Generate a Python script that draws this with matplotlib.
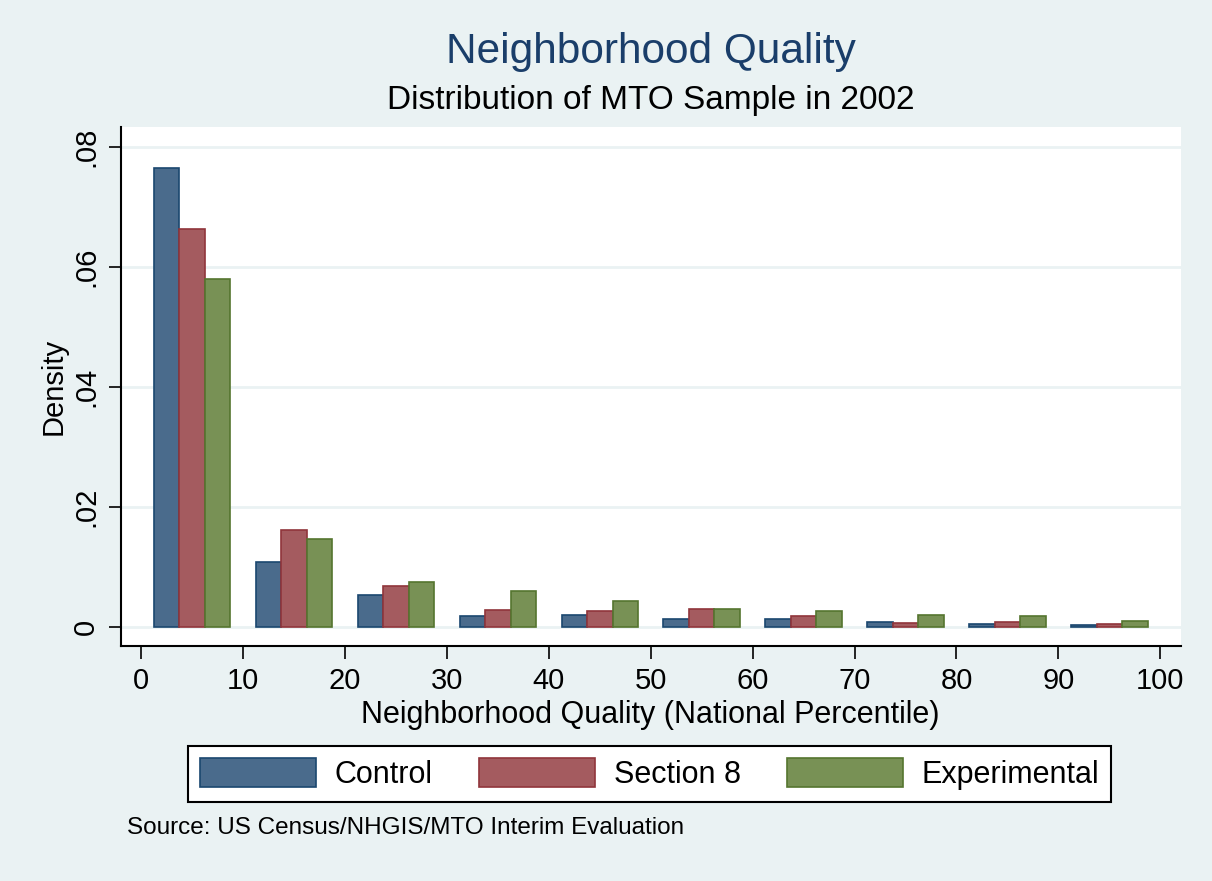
import matplotlib
matplotlib.use("Agg")
import matplotlib.pyplot as plt
import numpy as np

plt.rcParams['font.family'] = ['Liberation Sans', 'DejaVu Sans']

bin_centers = [5, 15, 25, 35, 45, 55, 65, 75, 85, 95]
control = [0.0765, 0.0108, 0.0053, 0.0017, 0.0020, 0.0012, 0.0013, 0.0008, 0.0005, 0.0003]
section8 = [0.0662, 0.0161, 0.0068, 0.0027, 0.0026, 0.0029, 0.0017, 0.0006, 0.0008, 0.0004]
experimental = [0.0580, 0.0146, 0.0075, 0.0059, 0.0042, 0.0030, 0.0026, 0.0020, 0.0017, 0.0009]
series_names = ["Control", "Section 8", "Experimental"]
xticks = [0, 10, 20, 30, 40, 50, 60, 70, 80, 90, 100]
yticks = [0, 0.02, 0.04, 0.06, 0.08]
ytick_labels = ["0", ".02", ".04", ".06", ".08"]

bg = "#EAF2F3"
fills = ["#4A6B8C", "#A45B5F", "#789155"]
edges = ["#1a476f", "#90353b", "#55752f"]

fig = plt.figure(figsize=(12.12, 8.81), dpi=100, facecolor=bg)
ax = fig.add_axes([0.0996, 0.2671, 0.9742 - 0.0996, 0.8555 - 0.2671])
ax.set_facecolor("white")

w = 2.5
x = np.array(bin_centers, dtype=float)
for i, (vals, fc, ec, name) in enumerate(zip([control, section8, experimental], fills, edges, series_names)):
    ax.bar(x + (i - 1) * w, vals, width=w, color=fc, edgecolor=ec, linewidth=1.2, label=name, zorder=3)

ax.set_xlim(-2, 102)
ax.set_ylim(-0.00317, 0.0832)
ax.set_xticks(xticks)
ax.set_yticks(yticks)
ax.set_yticklabels(ytick_labels, rotation=90, va="center")
ax.tick_params(axis='both', labelsize=21, length=9, width=1.2, direction='out', pad=6)
ax.grid(axis='y', color=bg, linewidth=2, zorder=0)
ax.set_axisbelow(True)
for s in ['top', 'right']:
    ax.spines[s].set_visible(False)
for s in ['left', 'bottom']:
    ax.spines[s].set_linewidth(1.5)

ax.set_xlabel("Neighborhood Quality (National Percentile)", fontsize=22, labelpad=4)
ax.set_ylabel("Density", fontsize=21, labelpad=3)

fig.text(0.5 * (445 + 857) / 1212, 1 - 52 / 881, "Neighborhood Quality", fontsize=30.5, color="#1a3e6a",
         ha="center", va="center")
fig.text(0.5 * (386 + 915) / 1212, 1 - 101 / 881, "Distribution of MTO Sample in 2002", fontsize=24,
         color="black", ha="center", va="center")

leg = fig.legend(loc="center", bbox_to_anchor=((187 + 1112) / 2 / 1212, 1 - 774 / 881), ncol=3,
                 fontsize=22, frameon=True, fancybox=False, edgecolor="black", facecolor="white",
                 framealpha=1, handlelength=3.8, handleheight=1.1, handletextpad=0.62, columnspacing=1.5,
                 borderpad=0.4, borderaxespad=0)
leg.get_frame().set_linewidth(1.5)

fig.text(127 / 1212, 1 - 828 / 881, "Source: US Census/NHGIS/MTO Interim Evaluation", fontsize=17.5,
         ha="left", va="center")

fig.savefig("out.png", dpi=100, facecolor=bg)
